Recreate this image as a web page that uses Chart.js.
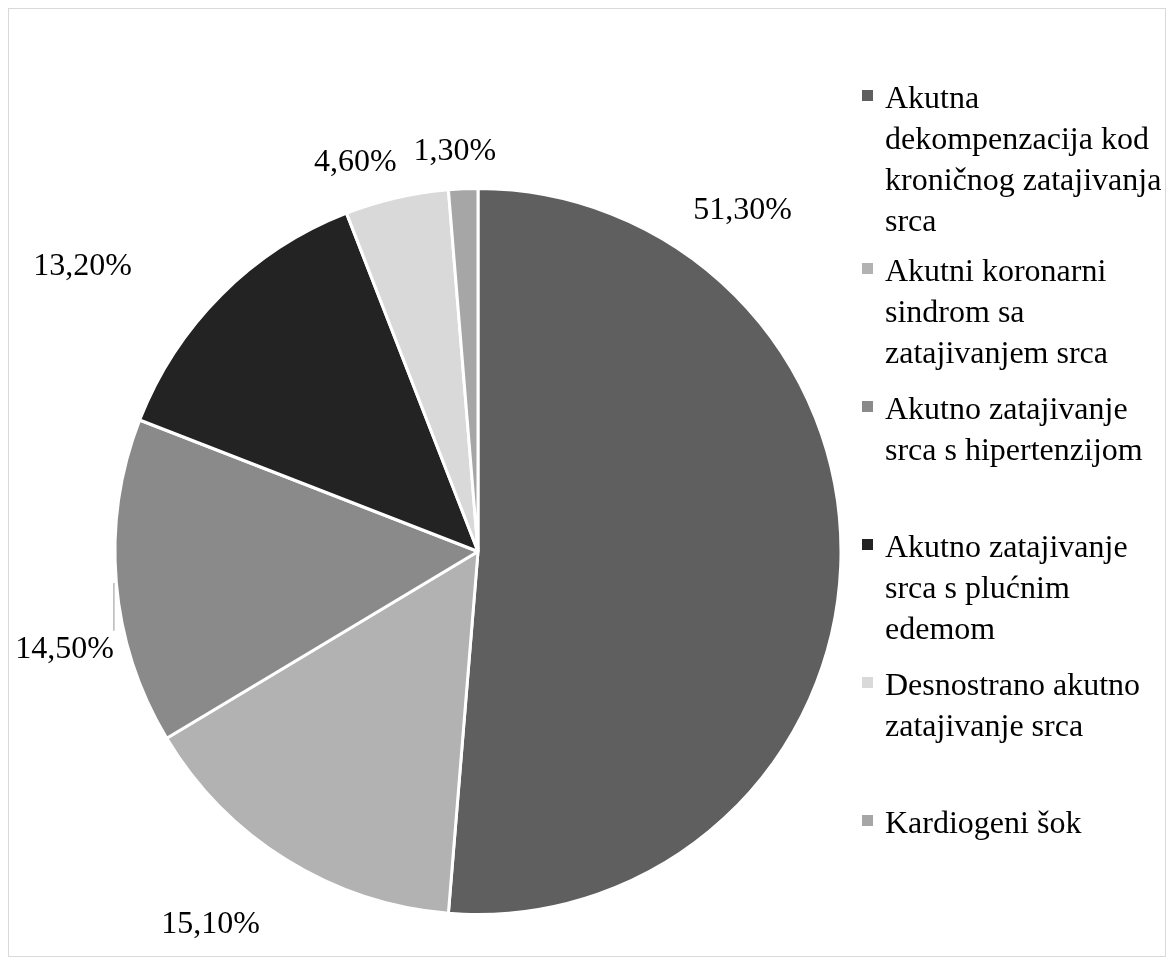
<!DOCTYPE html>
<html>
<head>
<meta charset="utf-8">
<script src="https://cdn.jsdelivr.net/npm/chart.js@4"></script>
<style>
  body { margin: 0; background: #fff; }
  #wrap { position: relative; width: 1174px; height: 965px; }
  #frame { position: absolute; left: 8px; top: 8px; width: 1156px; height: 947px; border: 1.5px solid #d9d9d9; }
  #legend { position: absolute; left: 862px; top: 77px; font-family: "Liberation Serif", "Times New Roman", serif; font-size: 32px; line-height: 41px; color: #000; }
  .item { position: relative; padding-left: 23px; width: 285px; }
  .box { position: absolute; left: 0; top: 13px; width: 11px; height: 11px; }
</style>
</head>
<body>
<div id="wrap">
  <div id="frame"></div>
  <canvas id="pie" width="1174" height="965"></canvas>
  <div id="legend"></div>
</div>
<script>
// podaci
const categories = [
  "Akutna dekompenzacija kod kroničnog zatajivanja srca",
  "Akutni koronarni sindrom sa zatajivanjem srca",
  "Akutno zatajivanje srca s hipertenzijom",
  "Akutno zatajivanje srca s plućnim edemom",
  "Desnostrano akutno zatajivanje srca",
  "Kardiogeni šok"
];
const values = [51.3, 15.1, 14.5, 13.2, 4.6, 1.3];
const valueLabels = ["51,30%", "15,10%", "14,50%", "13,20%", "4,60%", "1,30%"];
const colors = ["#5f5f5f", "#b2b2b2", "#8a8a8a", "#232323", "#d9d9d9", "#a6a6a6"];

// položaj oznaka (u jedinicama polumjera, od središta)
const labelOffsets = [[0.729, -0.94], [-0.737, 1.029], [-1.139, 0.27], [-1.089, -0.785], [-0.338, -1.071], [-0.064, -1.101]];
const legendHeights = [173, 138, 138, 138, 138, 138];

const labelPlugin = {
  id: 'outLabels',
  afterDatasetsDraw(chart) {
    const ctx = chart.ctx;
    const arc = chart.getDatasetMeta(0).data[0];
    const cx = arc.x, cy = arc.y, r = arc.outerRadius;
    ctx.save();
    // vodilica za 14,50%
    ctx.strokeStyle = '#a6a6a6';
    ctx.lineWidth = 1.2;
    ctx.beginPath();
    ctx.moveTo(cx - 1.003 * r, cy + 0.087 * r);
    ctx.lineTo(cx - 1.003 * r, cy + 0.218 * r);
    ctx.stroke();
    ctx.fillStyle = '#000';
    ctx.font = '32px "Liberation Serif", "Times New Roman", serif';
    ctx.textAlign = 'center';
    ctx.textBaseline = 'middle';
    valueLabels.forEach((t, i) => {
      const o = labelOffsets[i];
      ctx.fillText(t, cx + o[0] * r, cy + o[1] * r);
    });
    ctx.restore();
  }
};

new Chart(document.getElementById('pie'), {
  type: 'pie',
  data: {
    labels: categories,
    datasets: [{
      data: values,
      backgroundColor: colors,
      borderColor: '#fff',
      borderWidth: 3,
      hoverOffset: 0
    }]
  },
  options: {
    responsive: false,
    animation: false,
    layout: { padding: { left: 113, top: 187, right: 331, bottom: 49 } },
    plugins: { legend: { display: false }, tooltip: { enabled: false } }
  },
  plugins: [labelPlugin]
});

// legenda
const legend = document.getElementById('legend');
categories.forEach((c, i) => {
  const d = document.createElement('div');
  d.className = 'item';
  d.style.height = legendHeights[i] + 'px';
  d.innerHTML = '<span class="box" style="background:' + colors[i] + '"></span>' + c;
  legend.appendChild(d);
});
</script>
</body>
</html>
